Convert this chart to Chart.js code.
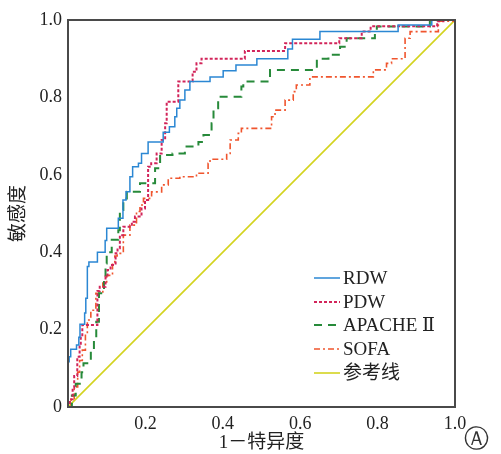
<!DOCTYPE html>
<html>
<head>
<meta charset="utf-8">
<script src="https://cdn.jsdelivr.net/npm/chart.js@4"></script>
<style>
  html, body { margin: 0; padding: 0; background: #fff; }
  #wrap { position: relative; width: 501px; height: 454px; }
  #tag { position: absolute; left: 464px; top: 426px; font: 25px "DejaVu Sans", "Liberation Serif", serif; color: #333; line-height: 1; }
</style>
</head>
<body>
<div id="wrap">
  <canvas id="c" width="501" height="454"></canvas>
  <span id="tag">Ⓐ</span>
</div>
<script>
// ---- data (1-specificity, sensitivity) ----
const seriesNames = ['RDW', 'PDW', 'APACHE Ⅱ', 'SOFA', '参考线'];
const xTickLabels = ['', '0.2', '0.4', '0.6', '0.8', '1.0'];
const yTickLabels = ['0', '0.2', '0.4', '0.6', '0.8', '1.0'];

const rdwX = [0, 0, 0.003, 0.007, 0.022, 0.028, 0.031, 0.043, 0.046, 0.05, 0.054, 0.076, 0.096, 0.10, 0.13, 0.142, 0.15, 0.16, 0.167, 0.182, 0.19, 0.207, 0.246, 0.262, 0.276, 0.281, 0.289, 0.302, 0.315, 0.367, 0.401, 0.434, 0.488, 0.568, 0.58, 0.651, 0.853, 0.94, 1];
const rdwY = [0, 0.117, 0.13, 0.149, 0.16, 0.18, 0.214, 0.243, 0.281, 0.363, 0.375, 0.40, 0.43, 0.462, 0.488, 0.535, 0.556, 0.595, 0.621, 0.63, 0.655, 0.685, 0.71, 0.724, 0.75, 0.772, 0.793, 0.819, 0.841, 0.853, 0.869, 0.884, 0.90, 0.925, 0.95, 0.97, 0.987, 1.0, 1];

const pdwX = [0, 0.005, 0.012, 0.016, 0.024, 0.03, 0.033, 0.037, 0.076, 0.082, 0.097, 0.102, 0.11, 0.123, 0.128, 0.134, 0.143, 0.165, 0.173, 0.19, 0.199, 0.207, 0.215, 0.229, 0.242, 0.251, 0.255, 0.285, 0.322, 0.332, 0.345, 0.457, 0.561, 0.701, 0.759, 0.782, 0.954, 0.97, 1];
const pdwY = [0, 0.02, 0.05, 0.08, 0.13, 0.16, 0.182, 0.212, 0.30, 0.311, 0.337, 0.354, 0.367, 0.397, 0.41, 0.444, 0.466, 0.479, 0.492, 0.513, 0.535, 0.621, 0.63, 0.655, 0.69, 0.733, 0.789, 0.841, 0.866, 0.888, 0.90, 0.92, 0.94, 0.953, 0.97, 0.984, 0.997, 1.0, 1];

const apacheX = [0, 0.01, 0.02, 0.035, 0.04, 0.059, 0.067, 0.073, 0.08, 0.093, 0.097, 0.10, 0.113, 0.13, 0.134, 0.143, 0.152, 0.186, 0.225, 0.238, 0.27, 0.302, 0.337, 0.35, 0.371, 0.376, 0.388, 0.448, 0.453, 0.522, 0.643, 0.673, 0.703, 0.72, 0.793, 0.798, 0.935, 1];
const apacheY = [0, 0.03, 0.06, 0.09, 0.113, 0.147, 0.18, 0.22, 0.294, 0.328, 0.371, 0.40, 0.432, 0.457, 0.509, 0.539, 0.556, 0.578, 0.617, 0.651, 0.655, 0.673, 0.685, 0.703, 0.733, 0.772, 0.802, 0.828, 0.841, 0.871, 0.90, 0.91, 0.931, 0.953, 0.974, 0.983, 1.0, 1];

const sofaX = [0, 0.008, 0.016, 0.025, 0.03, 0.037, 0.045, 0.05, 0.059, 0.072, 0.09, 0.10, 0.115, 0.121, 0.127, 0.143, 0.16, 0.177, 0.186, 0.195, 0.216, 0.242, 0.259, 0.289, 0.332, 0.362, 0.367, 0.41, 0.419, 0.44, 0.448, 0.526, 0.535, 0.561, 0.582, 0.59, 0.625, 0.789, 0.823, 0.836, 0.871, 0.884, 0.957, 1];
const sofaY = [0, 0.02, 0.052, 0.09, 0.12, 0.147, 0.19, 0.225, 0.25, 0.294, 0.32, 0.34, 0.371, 0.39, 0.397, 0.444, 0.47, 0.505, 0.522, 0.539, 0.556, 0.574, 0.591, 0.595, 0.604, 0.63, 0.64, 0.655, 0.69, 0.707, 0.72, 0.75, 0.767, 0.793, 0.815, 0.832, 0.853, 0.871, 0.888, 0.90, 0.953, 0.97, 0.997, 1];

const refX = [0, 1];
const refY = [0, 1];

// ---- build ----
const pts = (xs, ys) => xs.map((x, i) => ({ x: x, y: ys[i] }));
const styles = [
  { color: '#2b87d3', dash: [], width: 1.5, stepped: 'before' },
  { color: '#d2245a', dash: [3, 2], width: 2, stepped: 'before' },
  { color: '#278a3a', dash: [8, 6], width: 2, stepped: 'before' },
  { color: '#f0552e', dash: [6, 3, 2, 3], width: 1.6, stepped: 'before' },
  { color: '#d3d320', dash: [], width: 1.6, stepped: false }
];
const xsList = [rdwX, pdwX, apacheX, sofaX, refX];
const ysList = [rdwY, pdwY, apacheY, sofaY, refY];

const datasets = seriesNames.map((name, i) => ({
  label: name,
  data: pts(xsList[i], ysList[i]),
  showLine: true,
  borderColor: styles[i].color,
  backgroundColor: styles[i].color,
  borderWidth: styles[i].width,
  borderDash: styles[i].dash,
  stepped: styles[i].stepped,
  pointRadius: 0,
  tension: 0,
  fill: false
}));

const serif = '"Liberation Serif", "DejaVu Serif", "Noto Sans CJK SC", serif';

const boxPlugin = {
  id: 'box',
  afterDraw(chart) {
    const { ctx, chartArea: a } = chart;
    ctx.save();
    ctx.strokeStyle = '#4a4a4a';
    ctx.lineWidth = 2;
    ctx.strokeRect(a.left, a.top, a.right - a.left, a.bottom - a.top);
    // legend
    const rowY = [278, 302, 325, 349, 373];
    const x0 = 314, x1 = 340, tx = 343;
    ctx.font = '19px ' + serif;
    ctx.textBaseline = 'middle';
    ctx.textAlign = 'left';
    chart.data.datasets.forEach((ds, i) => {
      ctx.beginPath();
      ctx.setLineDash(ds.borderDash);
      ctx.strokeStyle = ds.borderColor;
      ctx.lineWidth = ds.borderWidth;
      ctx.moveTo(x0, rowY[i]);
      ctx.lineTo(x1, rowY[i]);
      ctx.stroke();
      ctx.setLineDash([]);
      ctx.fillStyle = '#222';
      ctx.fillText(ds.label, tx, rowY[i] + 1);
    });
    ctx.restore();
  }
};

new Chart(document.getElementById('c'), {
  type: 'scatter',
  data: { datasets },
  plugins: [boxPlugin],
  options: {
    responsive: false,
    animation: false,
    layout: { padding: { left: 0, right: 46, top: 20, bottom: 0 } },
    plugins: { legend: { display: false }, tooltip: { enabled: false } },
    scales: {
      x: {
        type: 'linear', min: 0, max: 1,
        grid: { display: false, drawTicks: false },
        border: { display: false },
        ticks: {
          stepSize: 0.2, padding: 6, color: '#222',
          font: { family: serif, size: 18 },
          maxRotation: 0,
          callback: (v) => xTickLabels[Math.round(v * 5)]
        },
        title: { display: true, text: '1－特异度', color: '#222', font: { family: serif, size: 19 }, padding: { top: 0, bottom: 0 } },
        afterFit: (s) => { s.height = 47; }
      },
      y: {
        type: 'linear', min: 0, max: 1,
        grid: { display: false, drawTicks: false },
        border: { display: false },
        ticks: {
          stepSize: 0.2, padding: 6, color: '#222',
          font: { family: serif, size: 18 },
          callback: (v) => yTickLabels[Math.round(v * 5)]
        },
        title: { display: true, text: '敏感度', color: '#222', font: { family: serif, size: 19 }, padding: { top: 8, bottom: 0 } },
        afterFit: (s) => { s.width = 68; }
      }
    }
  }
});
</script>
</body>
</html>
